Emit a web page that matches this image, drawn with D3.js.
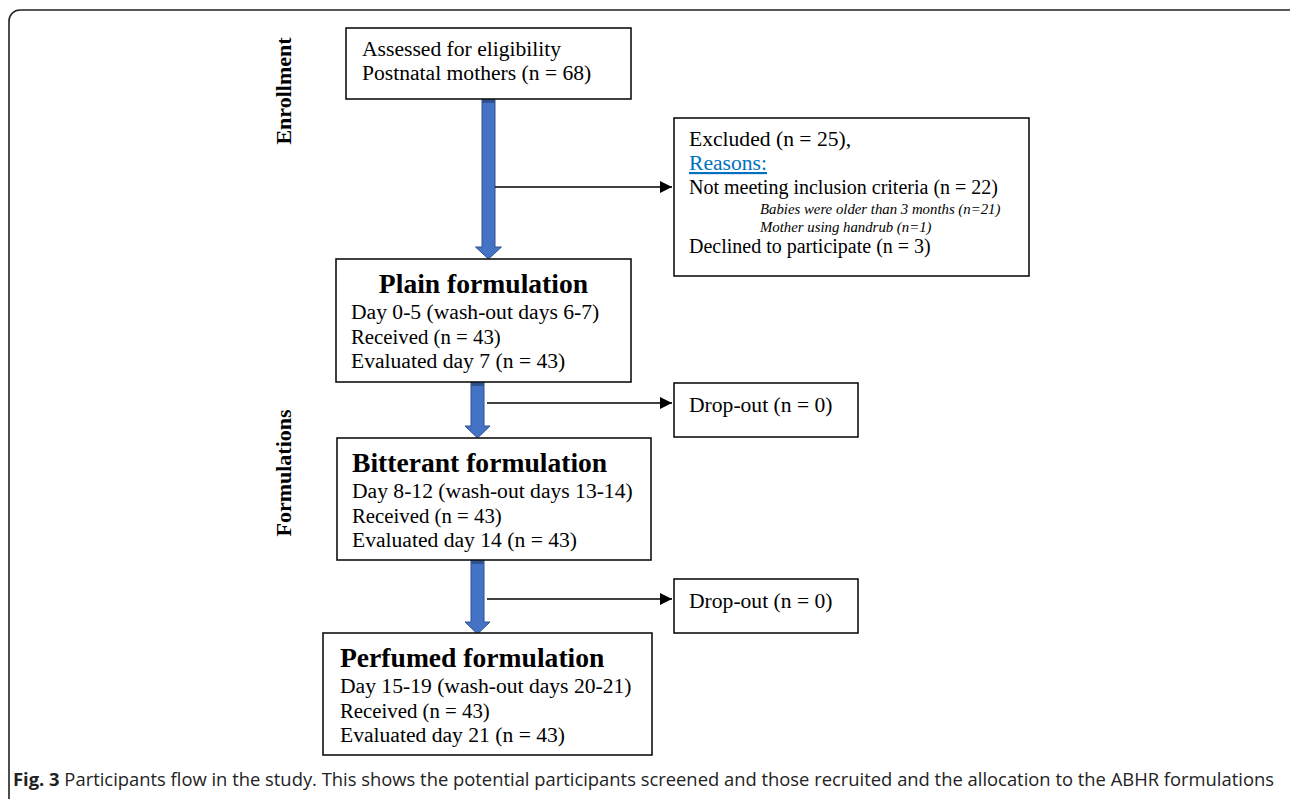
<!DOCTYPE html>
<html><head><meta charset="utf-8">
<script src="https://cdn.jsdelivr.net/npm/d3@7"></script>
<style>
body{margin:0;background:#fff;}
svg{display:block;}
</style></head>
<body>
<svg id="chart" width="1290" height="799"></svg>
<script>
// ---- data ----
const enrolledTotal = 68;
const excludedTotal = 25;
const exclusionReasons = ["Not meeting inclusion criteria", "Declined to participate"];
const exclusionCounts = [22, 3];
const subReasons = ["Babies were older than 3 months", "Mother using handrub"];
const subReasonCounts = [21, 1];
const formulations = ["Plain formulation", "Bitterant formulation", "Perfumed formulation"];
const dayRanges = ["Day 0-5 (wash-out days 6-7)", "Day 8-12 (wash-out days 13-14)", "Day 15-19 (wash-out days 20-21)"];
const receivedCounts = [43, 43, 43];
const evaluatedDays = [7, 14, 21];
const evaluatedCounts = [43, 43, 43];
const dropoutCounts = [0, 0];
const phaseLabels = ["Enrollment", "Formulations"];
const captionBold = "Fig. 3";
const captionText = " Participants flow in the study. This shows the potential participants screened and those recruited and the allocation to the ABHR formulations";

// ---- layout ----
const svg = d3.select("#chart");
const serif = "'Liberation Serif','Times New Roman',serif";
const blue = "#4472C4", blueDark = "#2F528F";
const FS = 21.6, FS_SMALL = 20, FS_TITLE = 27.6, FS_IT = 14.8;

// outer frame
svg.append("rect").attr("x", 9).attr("y", 10).attr("width", 1300).attr("height", 820)
  .attr("rx", 11).attr("fill", "none").attr("stroke", "#222").attr("stroke-width", 1.6);

const defs = svg.append("defs");
defs.append("marker").attr("id", "ah").attr("viewBox", "0 0 10 10").attr("refX", 10).attr("refY", 5)
  .attr("markerWidth", 12).attr("markerHeight", 12).attr("markerUnits", "userSpaceOnUse").attr("orient", "auto")
  .append("path").attr("d", "M0,0 L10,5 L0,10 Z").attr("fill", "#000");

function box(x, y, w, h) {
  svg.append("rect").attr("x", x).attr("y", y).attr("width", w).attr("height", h)
    .attr("fill", "#fff").attr("stroke", "#111").attr("stroke-width", 1.6);
}
function line(x, y, txt, opt = {}) {
  const t = svg.append("text").attr("x", x).attr("y", y)
    .attr("font-family", serif).attr("font-size", opt.size || FS)
    .attr("font-weight", opt.bold ? "bold" : "normal")
    .attr("font-style", opt.italic ? "italic" : "normal")
    .attr("fill", opt.fill || "#000")
    .attr("text-anchor", opt.anchor || "start")
    .text(txt);
  if (opt.underline) t.attr("text-decoration", "underline");
  return t;
}
function blueArrow(cx, y0, y1, shaftW, headW, headH) {
  const p = d3.path();
  p.moveTo(cx - shaftW / 2, y0);
  p.lineTo(cx + shaftW / 2, y0);
  p.lineTo(cx + shaftW / 2, y1 - headH);
  p.lineTo(cx + headW / 2, y1 - headH);
  p.lineTo(cx, y1);
  p.lineTo(cx - headW / 2, y1 - headH);
  p.lineTo(cx - shaftW / 2, y1 - headH);
  p.closePath();
  svg.append("path").attr("d", p.toString()).attr("fill", blue).attr("stroke", blueDark).attr("stroke-width", 1);
  svg.append("rect").attr("x", cx - shaftW / 2).attr("y", y0).attr("width", shaftW).attr("height", 4).attr("fill", blueDark);
}
function connector(x0, x1, y) {
  svg.append("line").attr("x1", x0).attr("x2", x1).attr("y1", y).attr("y2", y)
    .attr("stroke", "#000").attr("stroke-width", 1.4).attr("marker-end", "url(#ah)");
}

// arrows (drawn first so boxes overlay ends)
blueArrow(488.5, 99, 259, 13, 26, 12);
blueArrow(477.5, 382, 438, 13, 25, 12);
blueArrow(477.5, 560, 634, 13, 25, 12);
connector(495, 672, 187);
connector(487, 672, 403);
connector(487, 672, 599);

// enrollment box
box(346, 28, 285, 71);
line(362, 56, "Assessed for eligibility");
line(362, 80, `Postnatal mothers (n = ${enrolledTotal})`);

// excluded box
box(674, 118, 355, 158);
line(689, 146, `Excluded (n = ${excludedTotal}),`);
line(689, 170, "Reasons:", { fill: "#0070C0", underline: true });
line(689, 194, `${exclusionReasons[0]} (n = ${exclusionCounts[0]})`, { size: FS_SMALL });
line(760, 214, `${subReasons[0]} (n=${subReasonCounts[0]})`, { size: FS_IT, italic: true });
line(760, 232, `${subReasons[1]} (n=${subReasonCounts[1]})`, { size: FS_IT, italic: true });
line(689, 253, `${exclusionReasons[1]} (n = ${exclusionCounts[1]})`, { size: FS_SMALL });

// formulation boxes
const fBoxes = [
  { x: 336, y: 259, w: 295, h: 123, tx: 351, center: true },
  { x: 337, y: 438, w: 314, h: 122, tx: 352, center: false },
  { x: 323, y: 633, w: 329, h: 122, tx: 340, center: false }
];
formulations.forEach((f, i) => {
  const b = fBoxes[i];
  box(b.x, b.y, b.w, b.h);
  if (b.center) line(b.x + b.w / 2, b.y + 34, f, { size: FS_TITLE, bold: true, anchor: "middle" });
  else line(b.tx, b.y + 34, f, { size: FS_TITLE, bold: true });
  line(b.tx, b.y + 60, dayRanges[i]);
  line(b.tx, b.y + 85, `Received (n = ${receivedCounts[i]})`, { size: 20.8 });
  line(b.tx, b.y + 109, `Evaluated day ${evaluatedDays[i]} (n = ${evaluatedCounts[i]})`);
});

// drop-out boxes
[383, 579].forEach((y, i) => {
  box(674, y, 184, 54);
  line(689, y + 29, `Drop-out (n = ${dropoutCounts[i]})`);
});

// phase labels (rotated)
[[283, 91], [283, 473]].forEach(([x, y], i) => {
  svg.append("text").attr("transform", `translate(${x + 8},${y}) rotate(-90)`)
    .attr("text-anchor", "middle").attr("font-family", serif).attr("font-weight", "bold")
    .attr("font-size", 22).text(phaseLabels[i]);
});

// caption
const cap = svg.append("text").attr("x", 13).attr("y", 786)
  .attr("font-family", "'Open Sans',sans-serif").attr("font-size", 18.5).attr("fill", "#222")
  .attr("textLength", 1261).attr("lengthAdjust", "spacingAndGlyphs");
cap.append("tspan").attr("font-weight", "bold").text(captionBold);
cap.append("tspan").text(captionText);
</script>
</body></html>
